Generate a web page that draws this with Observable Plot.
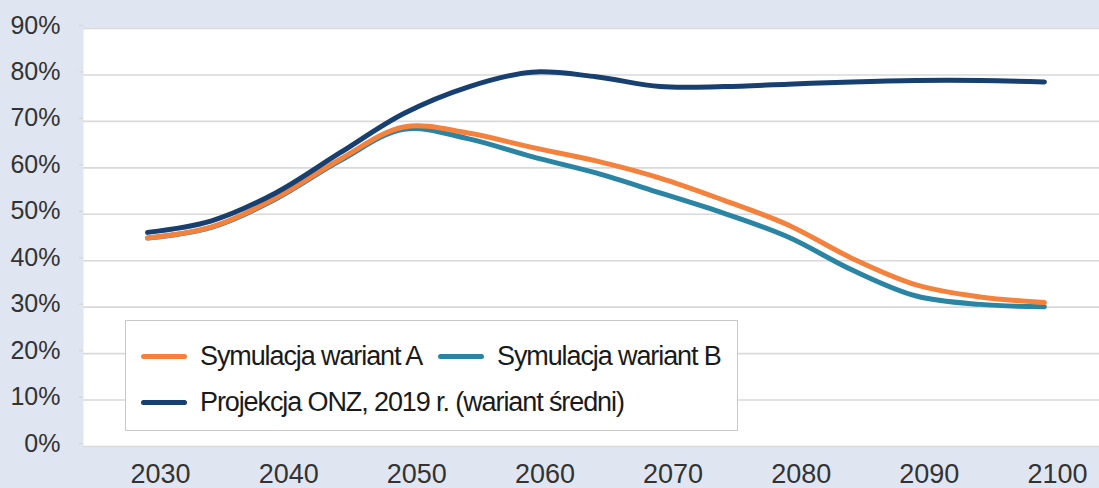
<!DOCTYPE html>
<html>
<head>
<meta charset="utf-8">
<script src="https://cdn.jsdelivr.net/npm/d3@7"></script>
<script src="https://cdn.jsdelivr.net/npm/@observablehq/plot@0.6"></script>
<style>
  html, body { margin: 0; padding: 0; }
  body { width: 1099px; height: 488px; overflow: hidden; position: relative; background: #dfe6f2; font-family: "Liberation Sans", Arial, sans-serif; }
  #chart { position: absolute; left: 0; top: 0; width: 1099px; height: 488px; }
  #legend { position: absolute; left: 125px; top: 320px; width: 611px; height: 109px; background: #fff; border: 1px solid #c9c9c9; }
  .item { position: absolute; display: flex; align-items: center; white-space: nowrap; font-size: 27px; letter-spacing: -1.1px; color: #1a1a1a; }
  .sw { display: inline-block; width: 46px; height: 5px; border-radius: 3px; margin-right: 13px; }
</style>
</head>
<body>
<div id="chart"></div>
<div id="legend"></div>
<script>
const years = [2030, 2035, 2040, 2045, 2050, 2055, 2060, 2065, 2070, 2075, 2080, 2085, 2090, 2095, 2100];
const wariantA = [44.9, 47.3, 53.5, 61.8, 68.8, 67.5, 64.4, 61.5, 57.8, 53.0, 47.7, 40.5, 34.8, 32.2, 31.0];
const wariantB = [44.9, 47.2, 53.3, 61.5, 68.3, 66.3, 62.4, 58.9, 54.6, 50.2, 45.1, 38.0, 32.4, 30.6, 30.1];
const onz = [46.1, 48.6, 54.6, 63.2, 71.7, 77.4, 80.6, 79.6, 77.5, 77.5, 78.0, 78.5, 78.8, 78.8, 78.5];

const seriesNames = ["Symulacja wariant A", "Symulacja wariant B", "Projekcja ONZ, 2019 r. (wariant średni)"];
const seriesColors = ["#f5823c", "#2a84a4", "#174070"];
const xTicks = [2030, 2040, 2050, 2060, 2070, 2080, 2090, 2100];
const yTicks = [0, 10, 20, 30, 40, 50, 60, 70, 80, 90];

const toRows = vals => years.map((year, i) => ({year, value: vals[i]}));
const rowsA = toRows(wariantA), rowsB = toRows(wariantB), rowsO = toRows(onz);

const lineOpts = (color) => ({x: "year", y: "value", stroke: color, strokeWidth: 5, curve: "catmull-rom", strokeLinecap: "round", strokeLinejoin: "round"});

const chart = Plot.plot({
  width: 1099,
  height: 488,
  marginLeft: 83,
  marginRight: 0,
  marginTop: 28,
  marginBottom: 42,
  style: {background: "transparent", fontFamily: "Liberation Sans, Arial, sans-serif", fontSize: "25px"},
  x: {domain: [2025, 2104.3]},
  y: {domain: [0, 90]},
  marks: [
    Plot.frame({fill: "#ffffff", stroke: null}),
    Plot.ruleY(yTicks, {stroke: "#d9d9d9", strokeWidth: 1.6}),
    Plot.axisY(yTicks, {tickSize: 4, tickPadding: 19, stroke: "#d9d9d9", strokeWidth: 1.6, fill: "#333333", fontSize: 25, dy: -3, tickFormat: d => d + "%", label: null}),
    Plot.axisX(xTicks, {tickSize: 0, tickPadding: 17, fill: "#333333", fontSize: 27, dx: 13, tickFormat: d => String(d), label: null}),
    Plot.line(rowsB, lineOpts(seriesColors[1])),
    Plot.line(rowsA, lineOpts(seriesColors[0])),
    Plot.line(rowsO, lineOpts(seriesColors[2]))
  ]
});
document.getElementById("chart").appendChild(chart);

const legend = document.getElementById("legend");
const legendPos = [[15, 20], [312, 20], [15, 66]];
seriesNames.forEach((name, i) => {
  const it = document.createElement("div");
  it.className = "item";
  it.style.left = legendPos[i][0] + "px";
  it.style.top = legendPos[i][1] + "px";
  const sw = document.createElement("span");
  sw.className = "sw";
  sw.style.background = seriesColors[i];
  const tx = document.createElement("span");
  tx.textContent = name;
  it.appendChild(sw);
  it.appendChild(tx);
  legend.appendChild(it);
});
</script>
</body>
</html>
